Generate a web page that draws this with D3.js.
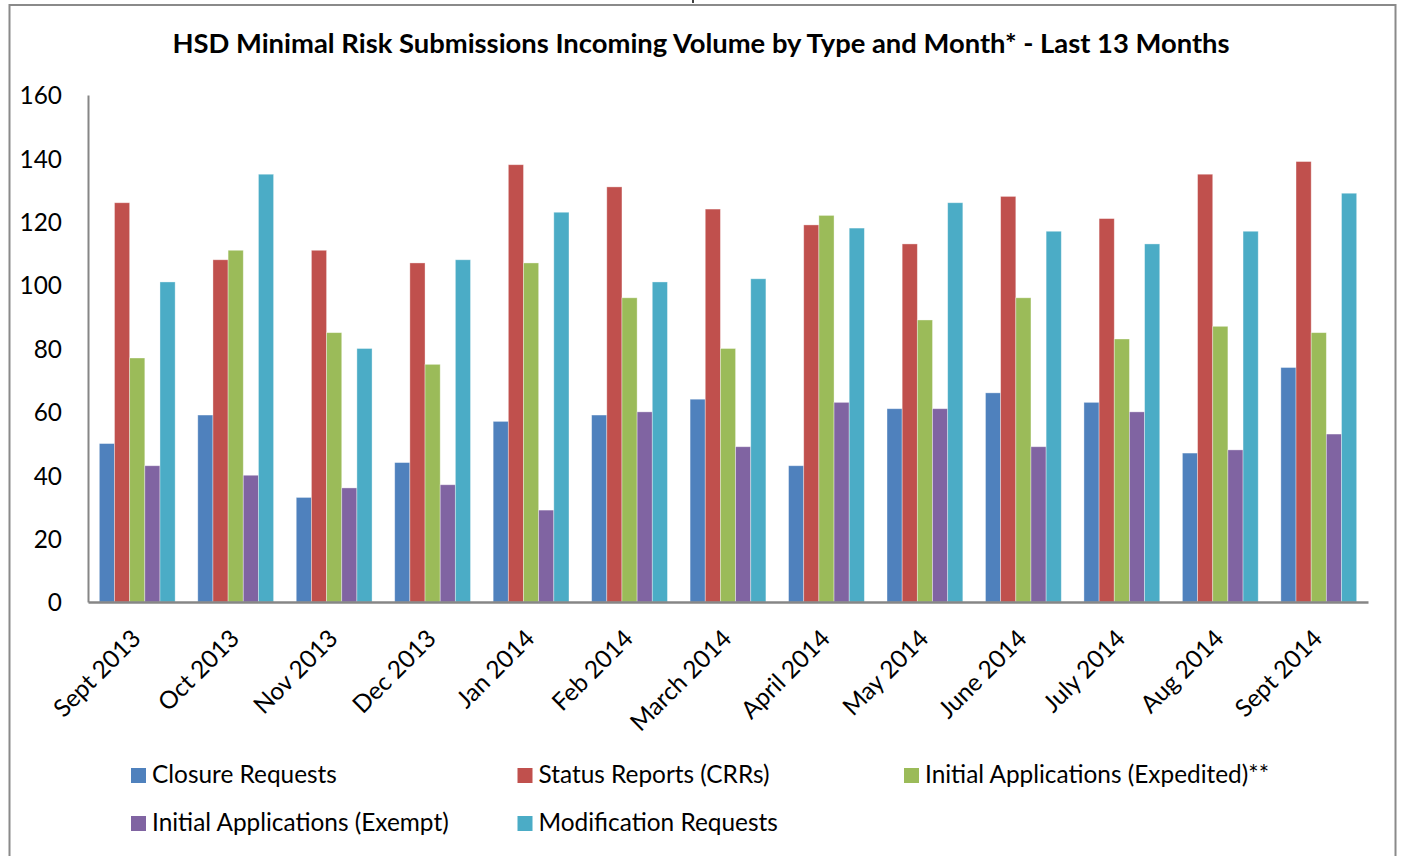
<!DOCTYPE html>
<html>
<head>
<meta charset="utf-8">
<script src="https://cdn.jsdelivr.net/npm/d3@7"></script>
<style>
  body { margin: 0; background: #fff; }
  svg text { font-family: Lato, "Open Sans", sans-serif; fill: #000; }
</style>
</head>
<body>
<svg id="chart"></svg>
<script>
const months = ["Sept 2013", "Oct 2013", "Nov 2013", "Dec 2013", "Jan 2014", "Feb 2014",
  "March 2014", "April 2014", "May 2014", "June 2014", "July 2014", "Aug 2014", "Sept 2014"];
const seriesNames = ["Closure Requests", "Status Reports (CRRs)", "Initial Applications (Expedited)**",
  "Initial Applications (Exempt)", "Modification Requests"];
const seriesColors = ["#4F81BD", "#C0504D", "#9BBB59", "#8064A2", "#4BACC6"];
const closure = [50, 59, 33, 44, 57, 59, 64, 43, 61, 66, 63, 47, 74];
const statusReports = [126, 108, 111, 107, 138, 131, 124, 119, 113, 128, 121, 135, 139];
const expedited = [77, 111, 85, 75, 107, 96, 80, 122, 89, 96, 83, 87, 85];
const exempt = [43, 40, 36, 37, 29, 60, 49, 63, 61, 49, 60, 48, 53];
const modification = [101, 135, 80, 108, 123, 101, 102, 118, 126, 117, 113, 117, 129];
const yTicks = [0, 20, 40, 60, 80, 100, 120, 140, 160];
const title = "HSD Minimal Risk Submissions Incoming Volume by Type and Month* - Last 13 Months";

const allSeries = [closure, statusReports, expedited, exempt, modification];
const W = 1401, H = 856;
const margin = { top: 95, right: 33, bottom: 254, left: 88 };

const svg = d3.select("#chart").attr("width", W).attr("height", H);

// pick a font size so a sample string gets the width it has in the picture
function fitSize(str, weight, target) {
  const t = svg.append("text").attr("font-size", 100).attr("font-weight", weight).text(str);
  const w = t.node().getComputedTextLength();
  t.remove();
  return 100 * target / w;
}
const titleSize = fitSize(title, "bold", 1058);
const labelSize = fitSize("Closure Requests", "normal", 185);

svg.append("rect").attr("width", W).attr("height", H).attr("fill", "#fff");

// outer frame
svg.append("rect")
  .attr("x", 9.5).attr("y", 5)
  .attr("width", 1386).attr("height", H + 10)
  .attr("fill", "none").attr("stroke", "#8a8a8a").attr("stroke-width", 2);
svg.append("line")
  .attr("x1", 693).attr("x2", 693).attr("y1", 0).attr("y2", 3)
  .attr("stroke", "#000").attr("stroke-width", 1.5);

svg.append("text")
  .attr("x", 701).attr("y", 53)
  .attr("text-anchor", "middle")
  .attr("font-weight", "bold")
  .attr("font-size", titleSize)
  .text(title);

const width = W - margin.left - margin.right;
const height = H - margin.top - margin.bottom;

const g = svg.append("g").attr("transform", `translate(${margin.left},${margin.top})`);

const x0 = d3.scaleBand().domain(months).range([0, width]).paddingInner(0.23).paddingOuter(0.115);
const x1 = d3.scaleBand().domain(d3.range(allSeries.length)).range([0, x0.bandwidth()]);
const y = d3.scaleLinear().domain([0, 160]).range([height, 0]);

const groups = g.selectAll(".grp")
  .data(months)
  .enter().append("g")
  .attr("class", "grp")
  .attr("transform", d => `translate(${x0(d)},0)`);

groups.selectAll("rect")
  .data((m, i) => allSeries.map((s, k) => ({ k: k, v: s[i] })))
  .enter().append("rect")
  .attr("x", d => x1(d.k))
  .attr("y", d => y(d.v))
  .attr("width", x1.bandwidth())
  .attr("height", d => height - y(d.v))
  .attr("fill", d => seriesColors[d.k])
  .attr("stroke", "rgba(255,255,255,0.45)")
  .attr("stroke-width", 0.8);

// y axis
const yAxis = g.append("g")
  .call(d3.axisLeft(y).tickValues(yTicks).tickSize(0).tickPadding(26));
yAxis.select(".domain").attr("stroke", "#868686").attr("stroke-width", 2);
yAxis.selectAll("text").attr("font-size", labelSize).attr("dy", "0.36em");

// x axis
const xAxis = g.append("g")
  .attr("transform", `translate(0,${height})`)
  .call(d3.axisBottom(x0).tickSize(0).tickPadding(0));
xAxis.select(".domain").attr("stroke", "#868686").attr("stroke-width", 2.5);
xAxis.selectAll("text")
  .attr("font-size", labelSize)
  .attr("text-anchor", "end")
  .attr("dy", 0)
  .attr("transform", "translate(5,38) rotate(-45)");

// legend
const legendItems = seriesNames.map((n, i) => ({ name: n, color: seriesColors[i], col: i % 3, row: Math.floor(i / 3) }));
const legend = svg.append("g").attr("transform", "translate(131,768)");
const item = legend.selectAll("g")
  .data(legendItems)
  .enter().append("g")
  .attr("transform", d => `translate(${d.col * 386.5},${d.row * 48})`);
item.append("rect")
  .attr("width", 15).attr("height", 15)
  .attr("fill", d => d.color);
item.append("text")
  .attr("x", 21).attr("y", 15)
  .attr("font-size", labelSize)
  .text(d => d.name);
</script>
</body>
</html>
